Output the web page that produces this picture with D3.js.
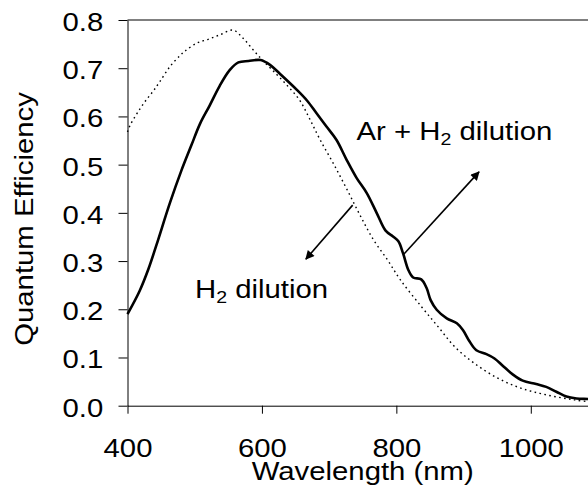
<!DOCTYPE html>
<html>
<head>
<meta charset="utf-8">
<script src="https://cdn.jsdelivr.net/npm/d3@7"></script>
<style>
	body { margin: 0; background: #fff; }
	svg text { font-family: "Liberation Sans", Arial, sans-serif; fill: #000; }
</style>
</head>
<body>
<div id="chart"></div>
<script>
// Ar + H2 dilution (solid)
var wavelengthAr = [400, 418, 431, 443, 463, 480, 495, 508, 522, 537, 552, 565, 580, 598, 612, 627, 652, 667, 681, 696,
	711, 726, 741, 756, 771, 784, 795, 803, 810, 818, 825, 837, 845, 851, 860, 875, 890, 899, 909, 919,
	934, 946, 959, 974, 988, 1008, 1023, 1038, 1053, 1068, 1085, 1100];
var qeAr = [0.19, 0.238, 0.283, 0.333, 0.42, 0.487, 0.54, 0.585, 0.622, 0.663, 0.696, 0.712, 0.715, 0.717, 0.707, 0.688, 0.655, 0.633, 0.607, 0.579,
	0.551, 0.51, 0.472, 0.441, 0.399, 0.363, 0.351, 0.341, 0.316, 0.281, 0.266, 0.262, 0.244, 0.219, 0.199, 0.181, 0.171, 0.157, 0.133, 0.115,
	0.107, 0.098, 0.082, 0.064, 0.052, 0.045, 0.039, 0.029, 0.019, 0.015, 0.014, 0.013];

// H2 dilution (dotted)
var wavelengthH2 = [400, 404, 424, 438, 448, 463, 478, 486, 503, 520, 537, 557, 572, 587, 602, 622, 639, 656, 671, 686,
	706, 726, 746, 766, 787, 806, 837, 862, 887, 916, 951, 986, 1025, 1065, 1100];
var qeH2 = [0.568, 0.582, 0.627, 0.652, 0.672, 0.703, 0.726, 0.736, 0.752, 0.76, 0.769, 0.779, 0.762, 0.738, 0.715, 0.687, 0.662, 0.634, 0.595, 0.553,
	0.503, 0.45, 0.395, 0.344, 0.302, 0.261, 0.206, 0.164, 0.122, 0.088, 0.057, 0.036, 0.022, 0.012, 0.006];

var xTicks = [400, 600, 800, 1000];
var yTicks = [0, 0.1, 0.2, 0.3, 0.4, 0.5, 0.6, 0.7, 0.8];
var xTitle = "Wavelength (nm)";
var yTitle = "Quantum Efficiency";

var width = 588, height = 500;
var fontSize = 25.5, stretch = 1.15;

var svg = d3.select("#chart").append("svg")
	.attr("width", width)
	.attr("height", height);

var x = d3.scaleLinear().domain([400, 1100]).range([127.5, 598]);
var y = d3.scaleLinear().domain([0, 0.8]).range([405.7, 20]);

// arrow head
svg.append("defs").append("marker")
	.attr("id", "arrow")
	.attr("viewBox", "0 0 10 10")
	.attr("refX", 9).attr("refY", 5)
	.attr("markerUnits", "userSpaceOnUse")
	.attr("markerWidth", 10).attr("markerHeight", 9)
	.attr("orient", "auto")
	.append("path")
	.attr("d", "M0,0 L10,5 L0,10 z")
	.attr("fill", "#000");

// frame top / right
svg.append("path")
	.attr("d", "M" + x(400) + "," + y(0.8) + "H" + x(1100) + "V" + y(0))
	.attr("fill", "none")
	.attr("stroke", "#000");

//Y axis
var yAxis = svg.append("g")
	.attr("transform", "translate(" + x(400) + ",0)")
	.call(d3.axisLeft(y).tickValues(yTicks).tickSize(9).tickSizeOuter(0).tickFormat(d3.format(".1f")));
yAxis.selectAll("line").attr("stroke", "#000");
yAxis.select(".domain").attr("stroke", "#000");
yAxis.selectAll("text")
	.attr("font-size", fontSize)
	.attr("x", null).attr("dy", null)
	.style("text-anchor", "end")
	.attr("transform", "translate(-24.2,10.5) scale(" + stretch + ",1)");

//X axis
var xAxis = svg.append("g")
	.attr("transform", "translate(0," + y(0) + ")")
	.call(d3.axisBottom(x).tickValues(xTicks).tickSize(8).tickSizeOuter(0).tickFormat(d3.format("d")));
xAxis.selectAll("line").attr("stroke", "#000");
xAxis.select(".domain").attr("stroke", "#000");
xAxis.selectAll("text")
	.attr("font-size", fontSize)
	.attr("y", null).attr("dy", null)
	.style("text-anchor", "middle")
	.attr("transform", "translate(0,51.5) scale(" + stretch + ",1)");

//Axis titles
svg.append("text")
	.attr("font-size", fontSize)
	.style("text-anchor", "middle")
	.attr("transform", "translate(" + ((x(400) + x(1100)) / 2) + ",480) scale(" + stretch + ",1)")
	.text(xTitle);
svg.append("text")
	.attr("font-size", fontSize)
	.style("text-anchor", "middle")
	.attr("transform", "translate(33,219) rotate(-90) scale(" + stretch + ",1)")
	.text(yTitle);

//Curves
var line = d3.line()
	.x(function(d) { return x(d[0]); })
	.y(function(d) { return y(d[1]); })
	.curve(d3.curveCatmullRom.alpha(0.5));

svg.append("path")
	.datum(d3.zip(wavelengthH2, qeH2))
	.attr("d", line)
	.attr("fill", "none")
	.attr("stroke", "#000")
	.attr("stroke-width", 1.4)
	.attr("stroke-dasharray", "1.6,3.4");

svg.append("path")
	.datum(d3.zip(wavelengthAr, qeAr))
	.attr("d", line)
	.attr("fill", "none")
	.attr("stroke", "#000")
	.attr("stroke-width", 2.6)
	.attr("stroke-linejoin", "round");

//Annotations
function arrow(x1, y1, x2, y2) {
	svg.append("line")
		.attr("x1", x(x1)).attr("y1", y(y1))
		.attr("x2", x(x2)).attr("y2", y(y2))
		.attr("stroke", "#000")
		.attr("stroke-width", 1.6)
		.attr("marker-end", "url(#arrow)");
}
arrow(811, 0.314, 923, 0.485);
arrow(735, 0.416, 665.4, 0.304);

function label(px, py, before, after) {
	var t = svg.append("text")
		.attr("font-size", fontSize)
		.attr("transform", "translate(" + px + "," + py + ") scale(" + stretch + ",1)");
	t.append("tspan").text(before);
	t.append("tspan").attr("font-size", 17).attr("dy", 5).text("2");
	t.append("tspan").attr("dy", -5).text(after);
}
label(x(740.8), y(0.552), "Ar + H", " dilution");
label(x(500.4), y(0.223), "H", " dilution");
</script>
</body>
</html>
